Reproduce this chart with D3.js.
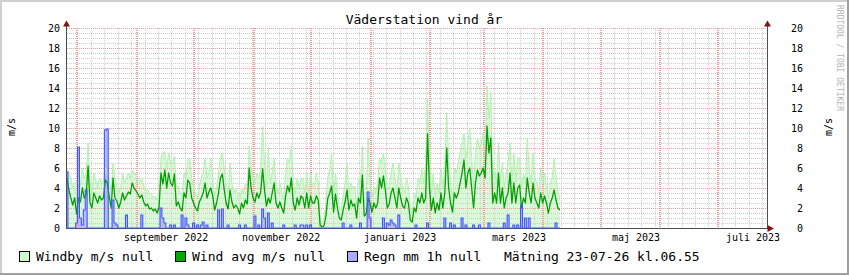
<!DOCTYPE html>
<html><head><meta charset="utf-8">
<script src="https://cdn.jsdelivr.net/npm/d3@7"></script>
<style>
body{margin:0;background:#fff}
svg{display:block}
text{font-family:"DejaVu Sans Mono",monospace}
</style>
</head><body>
<svg id="c" width="849" height="275"></svg>
<script>
const title = "Väderstation vind år";
const startDate = "2022-07-26T06:55:00Z";
const endDate = "2023-07-26T06:55:00Z";
const unitLabel = "m/s";
const creditText = "RRDTOOL / TOBI OETIKER";
const yTicks = [0,2,4,6,8,10,12,14,16,18,20];
const xLabelDates = ["2022-09-16","2022-11-15","2023-01-16","2023-03-19","2023-05-19","2023-07-19"];
const xLabels = ["september 2022","november 2022","januari 2023","mars 2023","maj 2023","juli 2023"];
const legendNames = ["Windby m/s null","Wind avg m/s null","Regn mm 1h null"];
const stampText = "Mätning 23-07-26 kl.06.55";

// daily values from 2022-07-26
const windAvg = [
5.0,3.8,3.0,2.3,3.0,1.4,3.0,2.6,4.0,3.0,
3.3,6.2,2.5,2.0,3.5,3.0,2.5,3.2,2.8,3.0,
4.8,4.5,3.2,2.0,5.0,3.0,2.7,2.0,2.6,3.5,
2.8,3.2,3.6,3.4,4.5,4.0,3.7,3.4,3.0,3.3,
2.6,2.2,2.4,1.9,2.0,1.7,1.9,1.5,2.1,5.5,
4.4,5.8,4.0,5.5,4.5,4.2,5.4,2.2,2.6,2.0,
1.7,3.5,3.0,4.8,4.5,3.0,2.5,2.0,1.7,2.6,
3.0,3.5,4.5,3.0,3.6,4.0,3.2,1.8,2.5,3.5,
5.0,5.4,3.8,2.5,1.9,3.8,2.6,2.0,2.3,2.0,
1.4,2.5,2.0,2.8,2.4,6.0,4.0,3.0,2.6,3.5,
3.0,3.6,5.9,3.8,2.2,3.0,2.5,3.5,4.5,2.5,
2.0,2.6,2.0,1.5,3.2,4.2,3.6,5.0,2.5,1.8,
3.0,2.3,3.2,3.0,2.0,3.5,2.0,3.2,2.5,2.5,
3.2,2.8,0.3,0.1,0.2,1.2,3.0,3.5,4.2,1.6,
3.4,2.0,1.0,0.8,1.8,2.6,3.8,1.8,2.8,2.2,
2.4,1.0,3.0,2.5,5.3,1.2,1.4,3.0,2.5,1.6,
2.5,2.0,2.5,5.0,4.0,5.2,3.8,2.0,2.4,3.5,
4.0,3.0,2.0,4.0,3.0,2.2,2.0,3.0,2.5,0.8,
0.6,2.0,1.6,3.0,2.5,3.5,2.5,3.0,9.4,4.0,
1.8,3.0,1.5,2.5,1.8,3.5,2.0,3.5,8.0,4.0,
2.5,1.6,3.5,3.0,3.5,4.5,5.5,6.8,4.0,5.5,
6.0,4.0,2.0,4.5,5.8,5.2,5.5,6.0,5.0,10.2,
7.5,9.0,2.5,3.5,2.5,5.5,2.5,4.0,2.0,3.0,
3.5,5.5,2.5,4.5,2.5,4.0,4.3,2.0,3.0,2.5,
5.0,3.5,2.5,4.5,3.0,2.5,2.0,3.5,2.5,3.2,
2.5,1.5,2.5,3.0,3.8,2.8,2.0,1.8];

const windGust = [
6.0,5.5,5.0,4.0,4.5,3.0,5.0,4.2,6.0,5.0,
5.5,8.5,4.5,3.5,5.5,4.8,4.0,5.0,4.5,4.8,
6.0,5.5,5.0,3.5,6.5,5.0,4.2,3.5,4.0,5.5,
4.5,5.0,5.5,5.0,5.8,5.5,5.2,5.0,4.6,5.0,
4.2,3.8,4.0,3.4,3.5,3.0,3.2,2.8,3.5,7.0,
7.5,7.6,6.0,7.5,6.5,6.5,7.2,4.0,4.2,3.5,
3.0,5.5,5.0,6.8,7.0,5.0,4.2,3.5,3.0,4.2,
5.0,5.5,7.0,5.0,5.5,7.0,5.0,3.2,4.0,5.5,
7.0,7.5,6.0,4.2,3.5,6.5,4.5,3.5,4.0,3.5,
2.8,4.0,3.5,4.5,4.2,8.2,6.0,5.0,4.5,5.5,
5.0,6.0,10.2,6.5,4.0,8.0,4.5,5.5,7.0,4.5,
3.5,4.5,3.5,2.8,5.5,7.0,6.5,8.2,4.5,3.5,
5.0,4.0,5.0,5.0,3.5,5.5,3.5,5.5,4.2,4.2,
5.5,4.5,1.0,0.5,0.8,2.5,5.0,6.0,7.5,3.0,
5.5,3.5,2.0,1.8,3.2,4.5,6.5,3.2,4.5,4.0,
4.2,2.2,5.0,4.5,8.2,2.5,2.8,9.0,4.5,3.0,
4.2,3.5,4.5,7.0,6.5,7.5,6.0,3.8,4.2,5.5,
6.5,5.0,3.5,6.5,5.0,4.0,3.5,5.0,4.2,1.8,
1.5,3.5,3.0,5.0,4.5,6.0,4.5,6.5,13.0,7.0,
3.5,5.5,3.0,4.5,3.5,6.0,4.0,6.0,11.5,7.0,
4.5,3.0,6.0,5.5,6.5,7.5,8.5,9.5,7.0,8.5,
10.0,7.0,4.0,7.5,9.0,8.0,8.5,9.5,8.0,14.2,
11.0,13.5,5.0,6.0,4.5,8.5,4.5,6.5,4.0,5.5,
6.5,8.5,4.5,7.5,4.5,7.0,7.0,4.0,5.5,4.5,
9.0,6.0,4.5,7.5,5.0,4.5,3.5,6.0,4.5,5.5,
4.2,3.0,4.5,5.0,7.0,5.0,3.5,3.0];

const rain = [
5.6,0,0,0,0,0.5,8.1,1.0,0.3,1.8,
3.8,0,0,0,0,0,0,0,0,0,
9.8,9.9,0,0,2.8,0.5,0.3,0,0,0,
0,1.3,0,0,0,0,0,0,0,1.3,
0,0,0,0,0,0,0,0,0,2.0,
1.0,0.5,0,0,0.3,0,0.3,0,0,0,
1.3,0,1.0,0.3,0,0,0.5,0,0.3,0,
0.3,0.6,0,0.3,0,0,0,0,0,1.8,
0,1.9,0,0,0.3,0,0,0,0,0,
0.3,0,0,0.3,0,0,0,0,1.2,0,
0.3,0,1.9,1.0,0,1.5,0,0.5,0,0,
0,0,0,0.3,0,0,0,0,0,0.3,
0,0,0.3,0.3,0,0.3,0,0.3,0,0,
0,0,0,0,0,0,0,0,0,0,
0,0,0,0,0.5,0,0,0,0.3,0,
0,0,0,0.5,0,0,0,3.6,1.0,0,
0,0,0,0,0,1.0,0,0.5,0.3,0.8,
0.5,0.3,0,1.3,0,0,0,0,0,0,
0,0,0.3,0,0,0,0,0,0.5,0,
0,0,0,0,0,0,0,1.0,0,0,
0.5,0,0.3,0,0,0,1.0,0,0.3,0,
0,0,0.3,0,0,0.3,0,0,0,0,
0.5,0,0,0,0,0,0,0,0.5,0,
1.3,0,0,0.3,0,0.3,0,2.3,0,1.0,
0,1.0,0,0,0,0,0,0,0,0,
0,0,0,0,0,0.5,0,0];

const svg = d3.select("#c");
const t0 = new Date(startDate), t1 = new Date(endDate);
const x = d3.scaleUtc().domain([t0, t1]).range([67, 767]);
const y = d3.scaleLinear().domain([0, 20]).range([228, 28]);
const dates = windAvg.map((_, i) => d3.utcDay.offset(t0, i));

// background + frame
svg.append("rect").attr("width", 849).attr("height", 275).attr("fill", "#ffffff");
svg.append("rect").attr("x", 0).attr("y", 0).attr("width", 849).attr("height", 2).attr("fill", "#cfcfcf");
svg.append("rect").attr("x", 0).attr("y", 0).attr("width", 2).attr("height", 275).attr("fill", "#cfcfcf");
svg.append("rect").attr("x", 847).attr("y", 0).attr("width", 2).attr("height", 275).attr("fill", "#9f9f9f");
svg.append("rect").attr("x", 0).attr("y", 273).attr("width", 849).attr("height", 2).attr("fill", "#9f9f9f");

// data areas
const gustArea = d3.area().x((d, i) => x(dates[i])).y0(y(0)).y1(d => y(d));
svg.append("path").datum(windGust).attr("d", gustArea).attr("fill", "#d9f9d9");

const rainArea = d3.area().curve(d3.curveStep).x((d, i) => x(dates[i])).y0(y(0)).y1(d => y(d));
svg.append("path").datum(rain).attr("d", rainArea).attr("fill", "#b8b8ff");

// dotted grid built from single pixels
function vDots(col, w) {
  let s = "";
  for (let yy = 28; yy <= 228; yy += 2) s += `M${col},${yy}h${w}v1h-${w}z`;
  return s;
}
function hDots(row) {
  let s = "";
  for (let xx = 67; xx <= 767; xx += 2) s += `M${xx},${row}h1v1h-1z`;
  return s;
}
const g = svg.append("g").attr("shape-rendering", "crispEdges");
const minorH = d3.range(0, 20.001, 0.5).filter(v => v % 2 !== 0);
const months = d3.utcMonth.range(t0, t1);
const monthKeys = new Set(months.map(d => +d3.utcDay.floor(d)));
const weeks = d3.utcMonday.range(t0, t1).filter(d => !monthKeys.has(+d));
g.append("path").attr("fill", "#cdcdcd")
  .attr("d", minorH.map(v => hDots(Math.round(y(v)))).join("") + weeks.map(d => vDots(Math.floor(x(d)), 1)).join(""));
g.append("path").attr("fill", "#f39a9a")
  .attr("d", yTicks.filter(v => v > 0).map(v => hDots(Math.round(y(v)))).join("") + months.map(d => vDots(Math.floor(x(d)) - 1, 2)).join(""));

// lines
const line = d3.line().x((d, i) => x(dates[i])).y(d => y(d));
svg.append("path").datum(windGust).attr("d", line).attr("fill", "none")
  .attr("stroke", "#b0f3b0").attr("stroke-width", 1);
svg.append("path").datum(windAvg).attr("d", line).attr("fill", "none")
  .attr("stroke", "#00a000").attr("stroke-width", 1.3).attr("stroke-linejoin", "round");

// axes
const axisCol = "#4d4d4d", arrowCol = "#841414";
svg.append("line").attr("x1", 66.5).attr("x2", 66.5).attr("y1", 228.5).attr("y2", 24).attr("stroke", axisCol);
svg.append("line").attr("x1", 767.5).attr("x2", 767.5).attr("y1", 228.5).attr("y2", 24).attr("stroke", axisCol);
svg.append("line").attr("x1", 66).attr("x2", 769).attr("y1", 228.5).attr("y2", 228.5).attr("stroke", axisCol);
[66.5, 767.5].forEach(ax => {
  svg.append("path").attr("d", `M${ax - 3.5},26.5 L${ax},20.5 L${ax + 3.5},26.5 Z`).attr("fill", arrowCol);
});
svg.append("path").attr("d", "M767.5,225 L774,228.5 L767.5,232 Z").attr("fill", arrowCol);

const rainLine = d3.line().curve(d3.curveStep).x((d, i) => x(dates[i])).y(d => y(d));
svg.append("path").datum(rain).attr("d", rainLine).attr("fill", "none")
  .attr("stroke", "#4258ff").attr("stroke-width", 1.1);

// y tick labels
svg.selectAll("text.yl").data(yTicks).join("text").attr("class", "yl")
  .attr("x", 60).attr("y", d => y(d) + 3.5).attr("text-anchor", "end")
  .attr("font-size", 10).attr("fill", "#000").text(d => d);
svg.selectAll("text.yr").data(yTicks).join("text").attr("class", "yr")
  .attr("x", 803).attr("y", d => y(d) + 3.5).attr("text-anchor", "end")
  .attr("font-size", 10).attr("fill", "#000").text(d => d);

// x labels
svg.selectAll("text.xl").data(xLabelDates).join("text").attr("class", "xl")
  .attr("x", d => x(new Date(d + "T00:00:00Z"))).attr("y", 241).attr("text-anchor", "middle")
  .attr("font-size", 10).attr("fill", "#000").text((d, i) => xLabels[i]);

// unit labels
svg.append("text").attr("transform", "translate(15,127) rotate(-90)").attr("text-anchor", "middle")
  .attr("font-size", 10).attr("fill", "#000").text(unitLabel);
svg.append("text").attr("transform", "translate(832,127) rotate(-90)").attr("text-anchor", "middle")
  .attr("font-size", 10).attr("fill", "#000").text(unitLabel);
svg.append("text").attr("transform", "translate(837,5) rotate(90)").attr("text-anchor", "start")
  .attr("font-size", 8).attr("fill", "#b4b4b4").text(creditText);

// title
svg.append("text").attr("x", 424).attr("y", 24).attr("text-anchor", "middle")
  .attr("font-size", 13).attr("fill", "#000").text(title);

// legend
const legendColors = ["#ccffcc", "#00aa00", "#aaaaff"];
const legendX = [19.5, 175.5, 347.5];
legendNames.forEach((n, i) => {
  svg.append("rect").attr("x", legendX[i]).attr("y", 251.5).attr("width", 10).attr("height", 10)
    .attr("fill", legendColors[i]).attr("stroke", "#000").attr("stroke-width", 1);
  svg.append("text").attr("x", legendX[i] + 16.5).attr("y", 261).attr("font-size", 13)
    .attr("fill", "#000").text(n);
});
svg.append("text").attr("x", 504).attr("y", 261).attr("font-size", 13).attr("fill", "#000").text(stampText);
</script>
</body></html>
